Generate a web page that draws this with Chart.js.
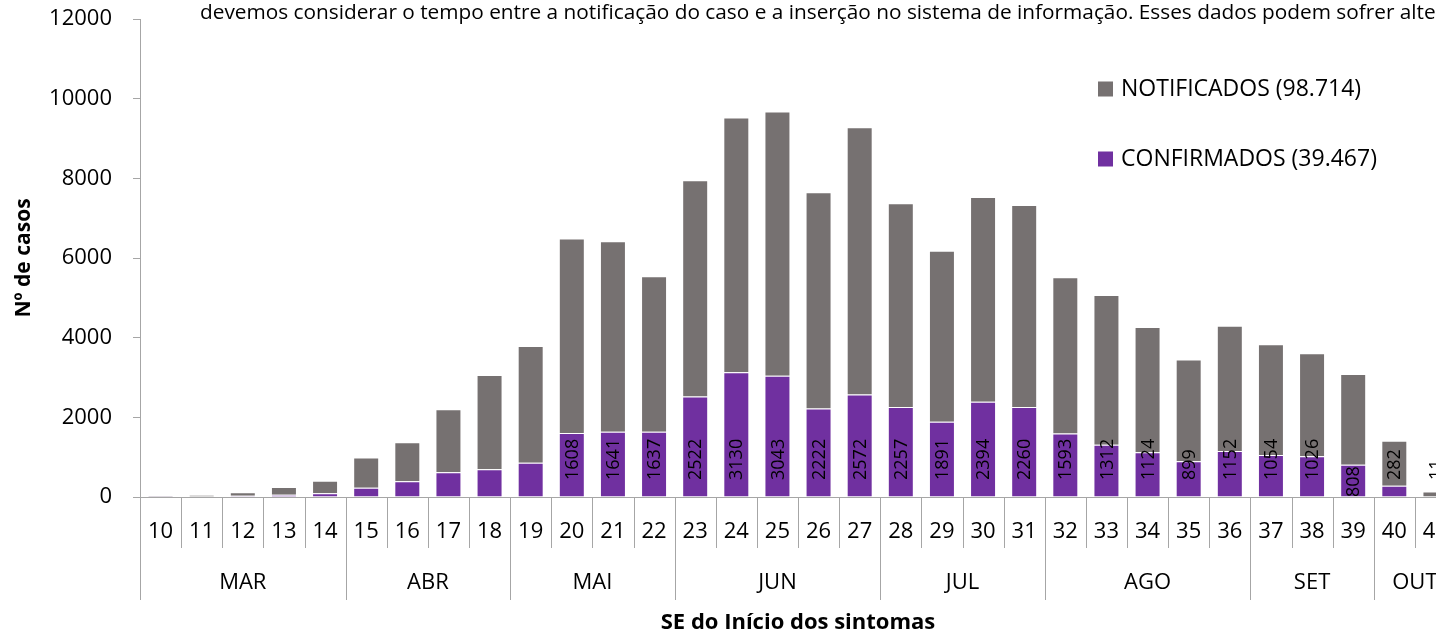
<!DOCTYPE html>
<html><head><meta charset="utf-8">
<script src="https://cdn.jsdelivr.net/npm/chart.js@4.4.1/dist/chart.umd.min.js"></script>
<style>
html,body{margin:0;padding:0;overflow:hidden;background:#fff;}
#wrap{position:absolute;left:0;top:0;width:1470px;height:633px;}
</style></head><body>
<div id="wrap"><canvas id="c"></canvas></div>
<script>
// ---- data ----
const weeks = ['10','11','12','13','14','15','16','17','18','19','20','21','22','23','24','25','26','27','28','29','30','31','32','33','34','35','36','37','38','39','40','41'];
const confirmados = [5,10,30,55,95,235,393,620,695,862,1608,1641,1637,2522,3130,3043,2222,2572,2257,1891,2394,2260,1593,1312,1124,899,1152,1054,1026,808,282,11];
const notificados = [20,40,90,195,315,755,982,1580,2370,2928,4882,4779,3903,5428,6400,6632,5428,6713,5118,4294,5136,5070,3922,3758,3146,2556,3148,2781,2584,2282,1133,124];
const yTicks = [0,2000,4000,6000,8000,10000,12000];
const months = ['MAR','ABR','MAI','JUN','JUL','AGO','SET','OUT'];
const monthWeekCounts = [5,4,4,5,4,5,3,2];
const legendLabels = ['NOTIFICADOS (98.714)','CONFIRMADOS (39.467)'];
const firstLabeledWeek = '20';
const noteText = 'devemos considerar o tempo entre a notificação do caso e a inserção no sistema de informação. Esses dados podem sofrer alte';
const xTitle = 'SE do Início dos sintomas';
const yTitle = 'Nº de casos';

// ---- style ----
const FONT = "'Open Sans', 'Liberation Sans', sans-serif";
const GRAY = '#767171';
const PURPLE = '#7030A0';
const AXIS = '#a6a6a6';

const decor = {
  id: 'decor',
  afterDatasetsDraw(chart) {
    const ctx = chart.ctx;
    const y = chart.scales.y;
    const meta = chart.getDatasetMeta(0);
    const y0 = y.getPixelForValue(0);
    const start = weeks.indexOf(firstLabeledWeek);
    const overrides = {'39': 0};
    ctx.save();
    ctx.font = '18px ' + FONT;
    ctx.fillStyle = '#000';
    ctx.textBaseline = 'middle';
    ctx.textAlign = 'left';
    for (let i = start; i < weeks.length; i++) {
      const bx = meta.data[i].x;
      const off = (weeks[i] in overrides) ? overrides[weeks[i]] : 17;
      ctx.save();
      ctx.translate(bx, y0 - off);
      ctx.rotate(-Math.PI / 2);
      ctx.fillText(String(confirmados[i]), 0, 1);
      ctx.restore();
    }
    ctx.restore();
  },
  afterDraw(chart) {
    const ctx = chart.ctx;
    const x = chart.scales.x;
    const ca = chart.chartArea;
    const step = x.getPixelForValue(1) - x.getPixelForValue(0);
    const bnd = i => x.getPixelForValue(i) - step / 2;
    const yb = ca.bottom;
    ctx.save();
    ctx.strokeStyle = AXIS;
    ctx.lineWidth = 1;
    const monthStarts = [];
    let acc = 0;
    monthWeekCounts.forEach(c => { monthStarts.push(acc); acc += c; });
    for (let i = 0; i < weeks.length; i++) {
      const px = Math.round(bnd(i)) + 0.5;
      const isMonth = monthStarts.includes(i);
      ctx.beginPath();
      ctx.moveTo(px, yb);
      ctx.lineTo(px, yb + (isMonth ? 103 : 51));
      ctx.stroke();
    }
    ctx.fillStyle = '#000';
    ctx.font = '22px ' + FONT;
    ctx.textAlign = 'center';
    ctx.textBaseline = 'middle';
    months.forEach((m, k) => {
      const s = monthStarts[k], e = s + monthWeekCounts[k];
      const cx = (bnd(s) + bnd(e)) / 2;
      ctx.fillText(m, cx, yb + 86);
    });
    ctx.font = 'bold 22px ' + FONT;
    ctx.fillText(xTitle, (ca.left + ca.right) / 2, 623);
    ctx.save();
    ctx.translate(24, (ca.top + ca.bottom) / 2);
    ctx.rotate(-Math.PI / 2);
    ctx.font = 'bold 21px ' + FONT;
    ctx.fillText(yTitle, 0, 0);
    ctx.restore();
    ctx.font = '20.8px ' + FONT;
    ctx.textAlign = 'left';
    ctx.fillText(noteText, 200, 13);
    const colors = [GRAY, PURPLE];
    const ys = [89, 159];
    ctx.font = '23px ' + FONT;
    legendLabels.forEach((t, k) => {
      ctx.fillStyle = colors[k];
      ctx.fillRect(1098, ys[k] - 7.5, 15, 15);
      ctx.fillStyle = '#000';
      ctx.fillText(t, 1121, ys[k]);
    });
    ctx.restore();
  }
};

new Chart(document.getElementById('c'), {
  type: 'bar',
  data: {
    labels: weeks,
    datasets: [
      { label: legendLabels[1], data: confirmados, backgroundColor: PURPLE, borderColor: 'rgba(255,255,255,0.45)', borderWidth: 1, borderSkipped: 'bottom' },
      { label: legendLabels[0], data: notificados, backgroundColor: GRAY, borderColor: 'rgba(255,255,255,0.45)', borderWidth: 1, borderSkipped: 'bottom' }
    ]
  },
  options: {
    responsive: true,
    maintainAspectRatio: false,
    animation: false,
    events: [],
    datasets: { bar: { categoryPercentage: 1, barPercentage: 0.632 } },
    layout: { autoPadding: false, padding: { top: 19, right: 14, left: 0, bottom: 0 } },
    plugins: { legend: { display: false }, tooltip: { enabled: false } },
    scales: {
      x: {
        stacked: true,
        grid: { display: false, drawTicks: false },
        border: { display: true, color: AXIS, width: 1 },
        ticks: { color: '#000', font: { family: FONT, size: 22 }, padding: 22, maxRotation: 0, autoSkip: false },
        afterFit: s => { s.height = 136; s.paddingLeft = 0; s.paddingRight = 0; }
      },
      y: {
        stacked: true,
        min: 0, max: 12000,
        afterBuildTicks: s => { s.ticks = yTicks.map(v => ({ value: v })); },
        grid: { display: true, drawOnChartArea: false, drawTicks: true, tickLength: 7, color: AXIS },
        border: { display: true, color: AXIS, width: 1 },
        ticks: { color: '#000', font: { family: FONT, size: 22 }, padding: 21, callback: v => String(v) },
        afterFit: s => { s.width = 140; s.paddingTop = 0; s.paddingBottom = 0; }
      }
    }
  },
  plugins: [decor]
});
</script>
</body></html>
